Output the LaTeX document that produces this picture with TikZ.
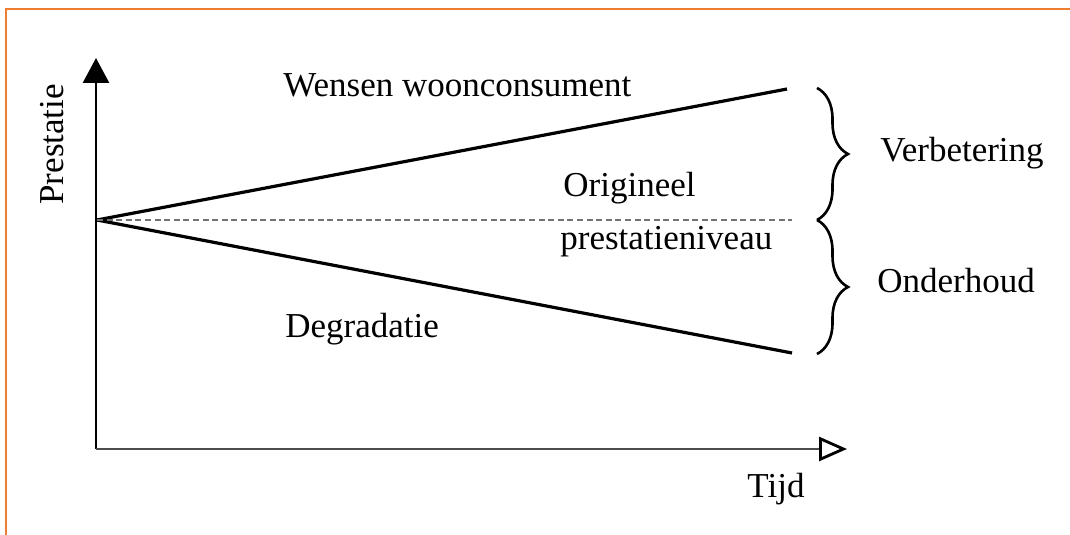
\documentclass[tikz,border=0pt]{standalone}
\usepackage{fontspec}
\setmainfont{Liberation Serif}
\usepackage{tikz}
\usetikzlibrary{arrows.meta,decorations.pathreplacing}
\definecolor{frameorange}{RGB}{237,125,49}
\tikzset{
  lbl/.style={font=\fontsize{17.5pt}{20pt}\selectfont,inner sep=0pt,anchor=base west},
  trend/.style={line width=1.6pt,black},
  curbrace/.style={decorate,decoration={brace,amplitude=15.5pt,aspect=0.5},line width=1.3pt},
}
\begin{document}
\begin{tikzpicture}[x=0.5pt,y=0.5pt]
\useasboundingbox (0,0) rectangle (1070,535);

% Frame (top and left edge only)
\draw[frameorange,line width=1.2pt] (6,0) |- (1070,526);

% Axes
\coordinate (corner) at (96,86);
\coordinate (ytip) at (96,477);
\coordinate (xtip) at (847,86);
\draw[line width=1.4pt,-{Triangle[length=12.5pt,width=13pt]}] (corner)--(ytip);
\draw[line width=1.4pt,black!70,-{Triangle[open,length=14pt,width=12pt,color=black]}] (corner)--(xtip);

% Trend lines from the original level
\coordinate (start) at (97,315);
\coordinate (wish) at (787,446);
\coordinate (decay) at (792,182);
\coordinate (level) at (792,315);
\draw[trend] (start)--(wish);
\draw[trend] (start)--(decay);
\draw[black!55,line width=1.4pt,dash pattern=on 3pt off 1.8pt] (start)--(level);

% Braces
\coordinate (btop) at (817,447);
\coordinate (bmid) at (817,315);
\coordinate (bbot) at (817,181);
\draw[curbrace] (btop)--(bmid);
\draw[curbrace] (bmid)--(bbot);

% Labels
\node[lbl] (wensen) at (283,438) {Wensen woonconsument};
\node[lbl] (orig) at (563,338) {Origineel};
\node[lbl] (niveau) at (560,285) {prestatieniveau};
\node[lbl] (degr) at (285,197) {Degradatie};
\node[lbl] (verb) at (880,373) {Verbetering};
\node[lbl] (onder) at (877,242) {Onderhoud};
\node[lbl] (tijd) at (747,37) {Tijd};
\node[lbl,rotate=90] (prest) at (63,330) {Prestatie};

\end{tikzpicture}
\end{document}
